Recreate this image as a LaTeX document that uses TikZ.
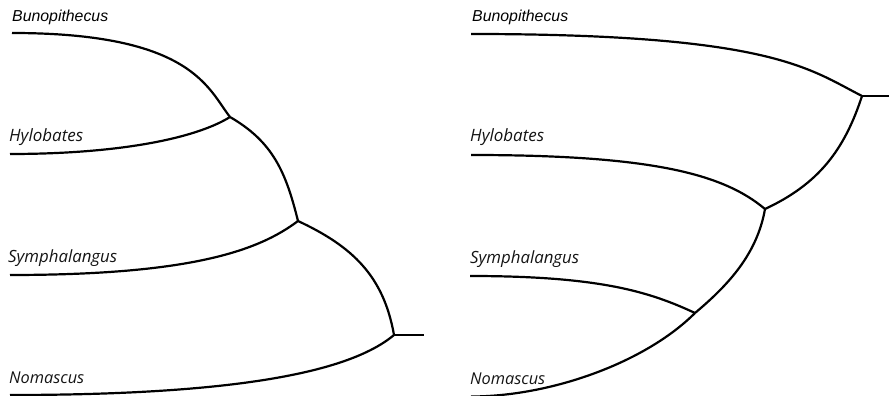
\documentclass[tikz,border=0pt]{standalone}
\usepackage{fontspec}
\newfontfamily\bunofont{Liberation Sans}
\newfontfamily\taxfont{Open Sans}
\tikzset{
  x=1pt, y=1pt,
  branch/.style={line width=2.2pt, black, line cap=butt},
  bunolabel/.style={anchor=base west, inner sep=0pt, text=black},
  taxlabel/.style={anchor=base west, inner sep=0pt, text=black!92},
}
\newcommand{\bunoname}[1]{\resizebox{#1}{!}{\bunofont\itshape Bunopithecus}}
\newcommand{\taxname}[2]{\resizebox{#1}{!}{\taxfont\itshape #2}}
\begin{document}
\begin{tikzpicture}
\useasboundingbox (0,0) rectangle (889,396);
% ---------- left tree ----------
\node[bunolabel] (lbuno) at (12,374) {\bunoname{96pt}};
\node[taxlabel] (lhylo) at (9,254) {\taxname{74pt}{Hylobates}};
\node[taxlabel] (lsymph) at (8,133) {\taxname{109pt}{Symphalangus}};
\node[taxlabel] (lnoma) at (9,12) {\taxname{75pt}{Nomascus}};
\coordinate (bl) at (12,363);
\coordinate (hl) at (10,242);
\coordinate (sl) at (10,121);
\coordinate (nl) at (10,1);
\coordinate (A) at (230,279);
\coordinate (B) at (298,175);
\coordinate (C) at (394,61);
\coordinate (Cs) at (424,61);
\draw[branch] (bl) .. controls +(0:180) and +(128:36) .. (A);
\draw[branch] (hl) .. controls +(0:110) and +(212:40) .. (A);
\draw[branch] (A) .. controls +(-30:50) and +(104:50) .. (B);
\draw[branch] (sl) .. controls +(0:180) and +(217:50) .. (B);
\draw[branch] (B) .. controls +(-25:60) and +(100:60) .. (C);
\draw[branch] (nl) .. controls +(0:220) and +(220:60) .. (C);
\draw[branch] (C) -- (Cs);
% ---------- right tree ----------
\node[bunolabel] (rbuno) at (472,374) {\bunoname{96pt}};
\node[taxlabel] (rhylo) at (470,254) {\taxname{74pt}{Hylobates}};
\node[taxlabel] (rsymph) at (470,132) {\taxname{109pt}{Symphalangus}};
\node[taxlabel] (rnoma) at (470,11) {\taxname{75pt}{Nomascus}};
\coordinate (br) at (471,362);
\coordinate (hr) at (471,241);
\coordinate (sr) at (470,120);
\coordinate (nr) at (471,-0.5);
\coordinate (R) at (862,300);
\coordinate (Rs) at (890,300);
\coordinate (D) at (765,187);
\coordinate (E) at (695,83);
\draw[branch] (br) .. controls +(0:300) and +(153:60) .. (R);
\draw[branch] (hr) .. controls +(0:180) and +(140:55) .. (D);
\draw[branch] (D) .. controls +(25:58) and +(-108:58) .. (R);
\draw[branch] (sr) .. controls +(0:130) and +(155:50) .. (E);
\draw[branch] (E) .. controls +(40:45) and +(-100:45) .. (D);
\draw[branch] (nr) .. controls +(0:80) and +(225:70) .. (E);
\draw[branch] (R) -- (Rs);
\end{tikzpicture}
\end{document}
